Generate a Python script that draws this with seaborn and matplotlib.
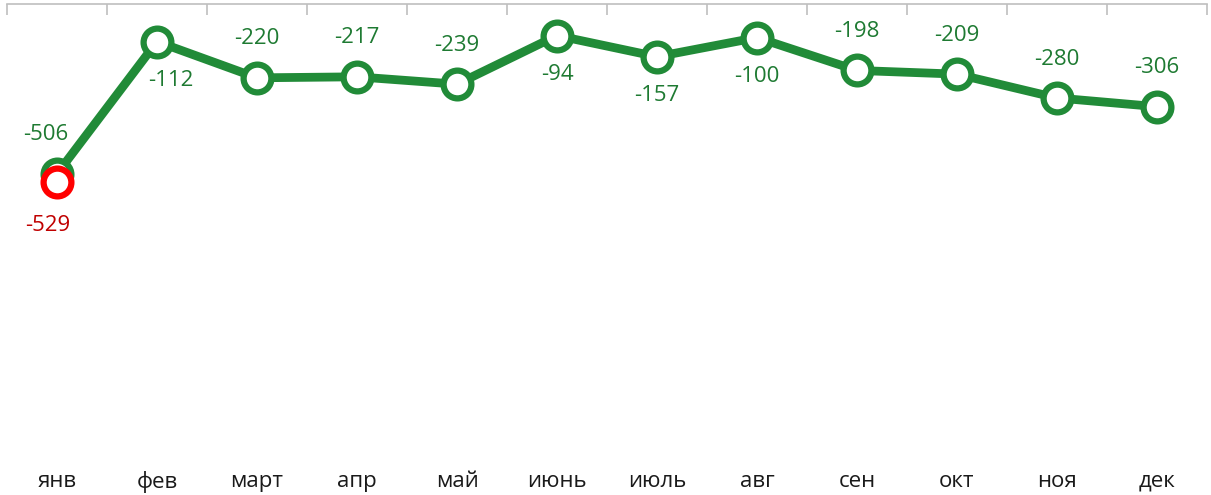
import pandas as pd
import matplotlib.pyplot as plt
import seaborn as sns
from matplotlib.ticker import FixedLocator

# Chart data
months = ['янв', 'фев', 'март', 'апр', 'май', 'июнь', 'июль', 'авг', 'сен', 'окт', 'ноя', 'дек']
values = [-506, -112, -220, -217, -239, -94, -157, -100, -198, -209, -280, -306]
red_month = ['янв']
red_value = [-529]

# label placement (offset in points): above or below the marker
label_offsets = [(-8, 28), (10, -28), (0, 28), (0, 28), (0, 28), (0, -28),
                 (0, -28), (0, -28), (0, 28), (0, 28), (0, 28), (0, 28)]

green = '#218B38'
green_text = '#1E7A32'
red = '#FF0000'
red_text = '#C00000'

sns.set_style('white')
plt.rcParams['font.family'] = ['Open Sans', 'DejaVu Sans']

df = pd.DataFrame({'month': months, 'value': values})
df_red = pd.DataFrame({'month': red_month, 'value': red_value})

fig = plt.figure(figsize=(12.11, 4.95), dpi=100)
ax = fig.add_axes([7 / 1211, 1 - 457 / 495, 1200 / 1211, 453 / 495])

sns.lineplot(data=df, x='month', y='value', sort=False, ax=ax, color=green,
             linewidth=6.3, marker='o', markersize=20, markerfacecolor='white',
             markeredgecolor=green, markeredgewidth=4.5, zorder=3)
sns.lineplot(data=df_red, x='month', y='value', ax=ax, color=red,
             linewidth=0, marker='o', markersize=20, markerfacecolor='white',
             markeredgecolor=red, markeredgewidth=4.5, zorder=4)

for i, (v, off) in enumerate(zip(values, label_offsets)):
    ax.annotate(str(v), (i, v), xytext=off, textcoords='offset points',
                ha='center', va='center', fontsize=16, color=green_text)
for m, v in zip(red_month, red_value):
    ax.annotate(str(v), (months.index(m), v), xytext=(-7, -32),
                textcoords='offset points', ha='center', va='center',
                fontsize=16, color=red_text)

ax.set_xlim(-0.5, len(months) - 0.5)
ax.set_ylim(-1350, 0)
ax.set_xlabel('')
ax.set_ylabel('')
ax.set_yticks([])

for side in ['left', 'right', 'bottom']:
    ax.spines[side].set_visible(False)
ax.spines['top'].set_color('#BFBFBF')
ax.spines['top'].set_linewidth(1.2)

ax.xaxis.set_minor_locator(FixedLocator([i - 0.5 for i in range(len(months) + 1)]))
ax.tick_params(axis='x', which='major', length=0, pad=10, labelsize=16, labelcolor='#1a1a1a')
ax.tick_params(axis='x', which='minor', top=True, bottom=False, direction='in',
               length=8, width=1.2, color='#BFBFBF')

fig.savefig('out.png', dpi=100)
